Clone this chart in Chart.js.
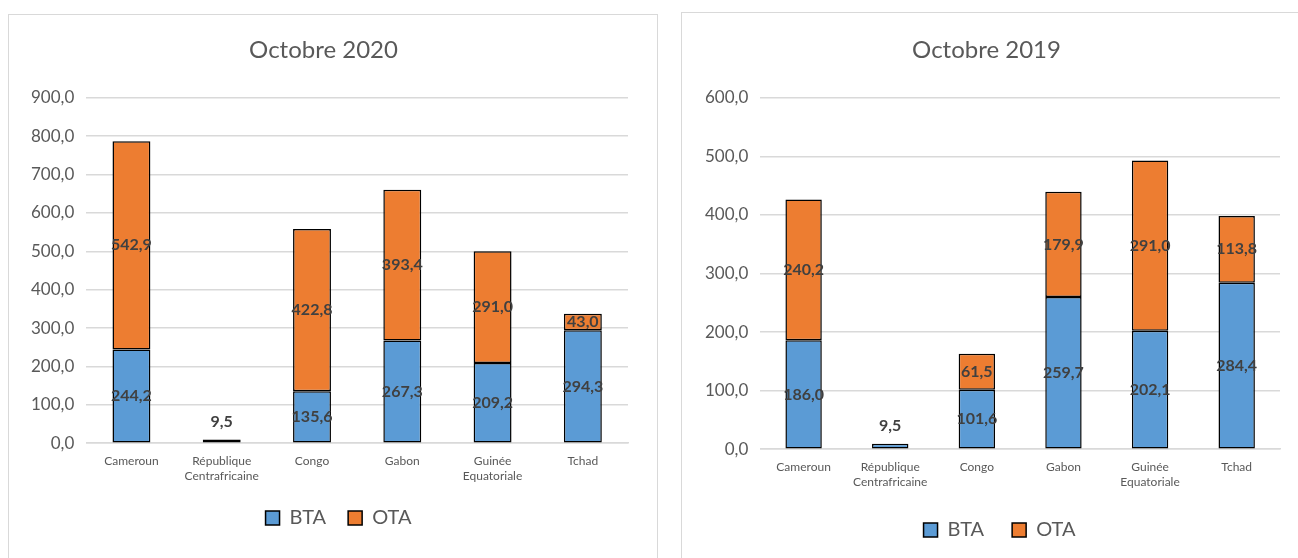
<!DOCTYPE html>
<html>
<head>
<meta charset="utf-8">
<script src="https://cdn.jsdelivr.net/npm/chart.js@4.4.1/dist/chart.umd.min.js"></script>
<style>
  html, body { margin:0; padding:0; background:#fff; overflow:hidden; }
  .box { position:absolute; border:1px solid #d9d9d9; background:#fff; }
  #box2020 { left:8px; top:14px; width:648px; height:580px; }
  #box2019 { left:681px; top:12px; width:630px; height:580px; }
</style>
</head>
<body>
<div class="box" id="box2020"><canvas id="c2020" width="648" height="544"></canvas></div>
<div class="box" id="box2019"><canvas id="c2019" width="616" height="560"></canvas></div>
<script>
// données
const pays = ['Cameroun', ['République', 'Centrafricaine'], 'Congo', 'Gabon', ['Guinée', 'Equatoriale'], 'Tchad'];
const bta2020 = [244.2, 9.5, 135.6, 267.3, 209.2, 294.3];
const ota2020 = [542.9, null, 422.8, 393.4, 291.0, 43.0];
const bta2019 = [186.0, 9.5, 101.6, 259.7, 202.1, 284.4];
const ota2019 = [240.2, null, 61.5, 179.9, 291.0, 113.8];

const FONT = 'Lato, "Open Sans", sans-serif';
const GRIS = '#595959';

function fmt(v){ return v.toFixed(1).replace('.', ','); }

// étiquettes de données (centrées, ou au-dessus si le segment est trop petit)
const labelsPlugin = {
  id: 'valLabels',
  afterDatasetsDraw(chart){
    const ctx = chart.ctx;
    ctx.save();
    ctx.font = 'bold 16px ' + FONT;
    ctx.fillStyle = '#404040';
    ctx.textAlign = 'center';
    ctx.textBaseline = 'middle';
    chart.data.datasets.forEach((ds, i) => {
      chart.getDatasetMeta(i).data.forEach((bar, j) => {
        const v = ds.data[j];
        if (!v) return;
        const h = bar.base - bar.y;
        if (h < 16) ctx.fillText(fmt(v), bar.x, bar.y - 18);
        else ctx.fillText(fmt(v), bar.x, (bar.y + bar.base) / 2);
      });
    });
    ctx.restore();
  }
};

// décale un peu la légende vers la droite (comme dans Excel)
function legendShift(dx){
  return {
    id: 'legendShift',
    afterLayout(chart){ chart.legend.left += dx; chart.legend.right += dx; }
  };
}

function makeChart(id, titre, bta, ota, maxY, pad, titlePad, legPad, dx){
  return new Chart(document.getElementById(id), {
    type: 'bar',
    data: {
      labels: pays,
      datasets: [
        { label: 'BTA', data: bta, backgroundColor: '#5B9BD5', borderColor: '#000', borderWidth: 1.5, borderSkipped: false },
        { label: 'OTA', data: ota, backgroundColor: '#ED7D31', borderColor: '#000', borderWidth: 1.5, borderSkipped: false }
      ]
    },
    options: {
      responsive: false,
      animation: false,
      layout: { padding: pad },
      datasets: { bar: { categoryPercentage: 0.42, barPercentage: 1 } },
      plugins: {
        title: { display: true, text: titre, color: GRIS, font: { family: FONT, size: 24, weight: 'normal' }, padding: titlePad },
        legend: {
          position: 'bottom',
          labels: { color: GRIS, font: { family: FONT, size: 20 }, boxWidth: 14, boxHeight: 14, padding: legPad }
        },
        tooltip: { enabled: false }
      },
      scales: {
        x: {
          stacked: true,
          grid: { display: false },
          border: { color: '#d9d9d9', width: 1.5 },
          ticks: { color: GRIS, font: { family: FONT, size: 12 }, maxRotation: 0, autoSkip: false }
        },
        y: {
          stacked: true,
          min: 0, max: maxY,
          grid: { color: '#d9d9d9', lineWidth: 1.5, drawTicks: false },
          border: { display: false },
          ticks: { stepSize: 100, color: GRIS, font: { family: FONT, size: 17 }, padding: 12, callback: v => fmt(v) }
        }
      }
    },
    plugins: [labelsPlugin, legendShift(dx)]
  });
}

makeChart('c2020', 'Octobre 2020', bta2020, ota2020, 900,
  { left: 10, right: 29, top: 0, bottom: 21 }, { top: 21, bottom: 33 }, 22, 15);
makeChart('c2019', 'Octobre 2019', bta2019, ota2019, 600,
  { left: 11, right: 18, top: 0, bottom: 23 }, { top: 23, bottom: 33 }, 28, 13);
</script>
</body>
</html>
